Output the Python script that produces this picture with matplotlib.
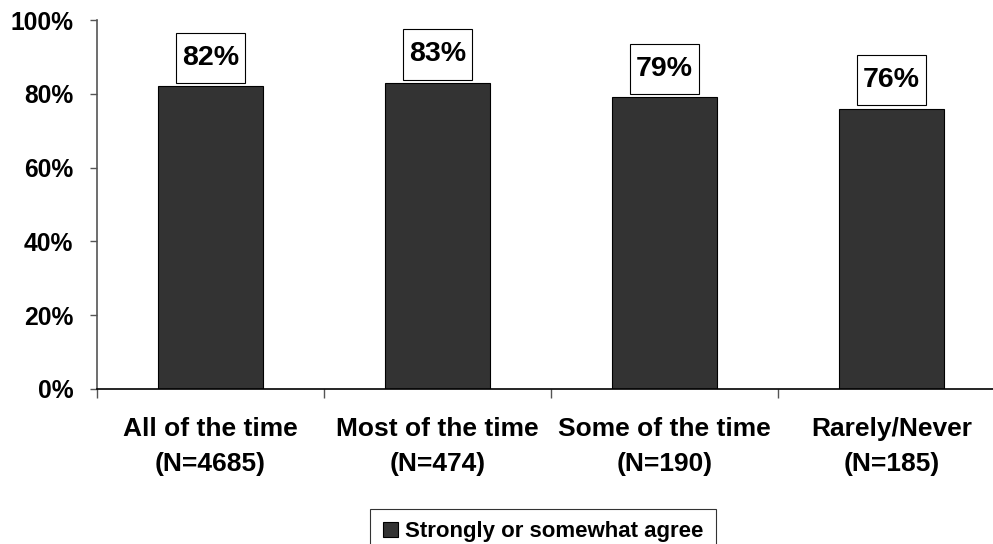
import numpy as np
import matplotlib.pyplot as plt
from matplotlib.path import Path

plt.rcParams['font.family'] = ['Liberation Sans', 'DejaVu Sans']
plt.rcParams['font.weight'] = 'bold'

categories = ['All of the time\n(N=4685)', 'Most of the time\n(N=474)',
              'Some of the time\n(N=190)', 'Rarely/Never\n(N=185)']
agree = [82, 83, 79, 76]
series_name = 'Strongly or somewhat agree'


def label_box(x0, y0, width, height, mutation_size):
    # rectangle with more room above/below the text than at the sides
    px = 0.2 * mutation_size
    py = 0.43 * mutation_size
    x0, y0 = x0 - px, y0 - py
    x1, y1 = x0 + width + 2 * px, y0 + height + 2 * py
    return Path([(x0, y0), (x1, y0), (x1, y1), (x0, y1), (x0, y0)], closed=True)


fig = plt.figure(figsize=(9.93, 5.44), dpi=100)
# axes runs past the right edge of the figure, as in the original
ax = fig.add_axes([97 / 993, 155 / 544, 908 / 993, 369 / 544])

x = np.arange(len(categories))
ax.bar(x, agree, width=0.46, color='#333333', edgecolor='black',
       linewidth=0.8, label=series_name)

for xi, v in zip(x, agree):
    ax.annotate(f'{v}%', (xi, v), xytext=(0, 20.5), textcoords='offset points',
                ha='center', va='center', fontsize=20.5, fontweight='bold',
                bbox=dict(boxstyle=label_box, fc='white', ec='black', lw=0.8))

ax.set_xlim(-0.5, 3.5)
ax.set_ylim(0, 100)
ax.set_yticks(range(0, 101, 20))
ax.set_yticklabels([f'{t}%' for t in range(0, 101, 20)])
ax.tick_params(axis='y', direction='out', length=5, width=1, pad=12,
               labelsize=17.7, color='#555555')

ax.set_xticks(x)
ax.set_xticklabels(categories, linespacing=1.6)
ax.set_xticks(np.arange(-0.5, 4, 1), minor=True)
ax.tick_params(axis='x', which='major', length=0, pad=20, labelsize=19)
ax.tick_params(axis='x', which='minor', direction='out', length=6.5, width=1,
               color='#555555')

for s in ['top', 'right']:
    ax.spines[s].set_visible(False)
ax.spines['left'].set_color('#555555')
ax.spines['left'].set_linewidth(1.2)
ax.spines['bottom'].set_color('black')
ax.spines['bottom'].set_linewidth(1.2)

leg = fig.legend(loc='upper center', bbox_to_anchor=(543 / 993, 1 - 509 / 544),
                 fontsize=16, frameon=True, fancybox=False, edgecolor='black',
                 handlelength=0.7, handleheight=0.7, handletextpad=0.3,
                 borderpad=0.55, borderaxespad=0)
leg.get_frame().set_linewidth(0.8)
for t in leg.get_texts():
    t.set_fontweight('bold')

fig.savefig('out.png', dpi=100)
